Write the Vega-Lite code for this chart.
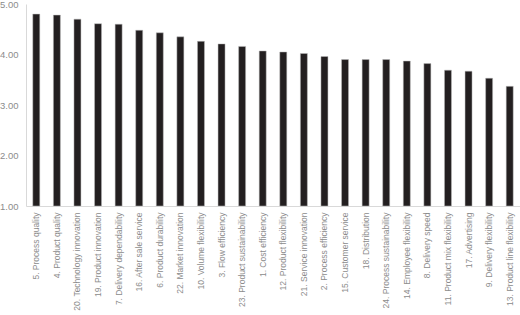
{
  "$schema": "https://vega.github.io/schema/vega-lite/v6.json",
  "width": 494,
  "height": 202,
  "autosize": "none",
  "padding": {"left": 26, "top": 4, "right": 0, "bottom": 109},
  "background": "white",
  "data": {
    "values": [
      {"item": "5. Process quality", "value": 4.80},
      {"item": "4. Product quality", "value": 4.78},
      {"item": "20. Technology innovation", "value": 4.70},
      {"item": "19. Product innovation", "value": 4.61},
      {"item": "7. Delivery dependability", "value": 4.60},
      {"item": "16. After sale service", "value": 4.48},
      {"item": "6. Product durability", "value": 4.43},
      {"item": "22. Market innovation", "value": 4.35},
      {"item": "10. Volume flexibility", "value": 4.26},
      {"item": "3. Flow efficiency", "value": 4.21},
      {"item": "23. Product sustainability", "value": 4.16},
      {"item": "1. Cost efficiency", "value": 4.07},
      {"item": "12. Product flexibility", "value": 4.05},
      {"item": "21. Service innovation", "value": 4.02},
      {"item": "2. Process efficiency", "value": 3.96},
      {"item": "15. Customer service", "value": 3.90},
      {"item": "18. Distribution", "value": 3.90},
      {"item": "24. Process sustainability", "value": 3.90},
      {"item": "14. Employee flexibility", "value": 3.87},
      {"item": "8. Delivery speed", "value": 3.82},
      {"item": "11. Product mix flexibility", "value": 3.69},
      {"item": "17. Advertising", "value": 3.67},
      {"item": "9. Delivery flexibility", "value": 3.53},
      {"item": "13. Product line flexibility", "value": 3.37}
    ]
  },
  "mark": {"type": "bar", "color": "#231f20", "stroke": "#bdbdbd", "strokeWidth": 0.5},
  "encoding": {
    "x": {
      "field": "item",
      "type": "nominal",
      "sort": null,
      "scale": {"paddingInner": 0.66, "paddingOuter": 0.33},
      "axis": {
        "title": null,
        "labelAngle": -90,
        "labelAlign": "right",
        "labelBaseline": "middle",
        "labelFont": "Liberation Sans",
        "labelFontSize": 8.5,
        "labelColor": "#8c8c8c",
        "labelPadding": 6,
        "ticks": false,
        "domainColor": "#d9d9d9",
        "labelLimit": 0
      }
    },
    "y": {
      "field": "value",
      "type": "quantitative",
      "scale": {"domain": [1, 5], "zero": false, "nice": false},
      "axis": {
        "title": null,
        "values": [1, 2, 3, 4, 5],
        "format": ".2f",
        "grid": false,
        "ticks": false,
        "labelFont": "Liberation Sans",
        "labelFontSize": 9.5,
        "labelColor": "#8c8c8c",
        "labelPadding": 8,
        "domainColor": "#d9d9d9"
      }
    },
    "y2": {"datum": 1}
  },
  "config": {"view": {"stroke": null}}
}
